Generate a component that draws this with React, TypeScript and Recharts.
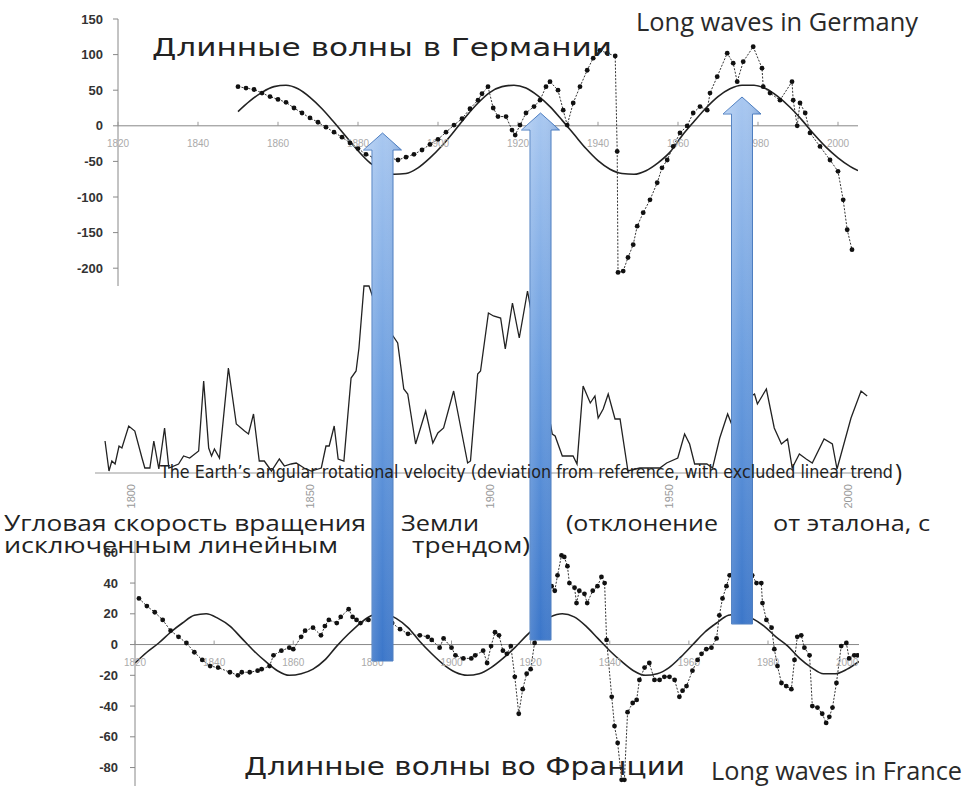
import { LineChart, Line, XAxis, YAxis, ReferenceLine, ReferenceDot } from 'recharts';

// Germany: index values (dotted series) and fitted long wave
const GER_YEARS = [
  1850, 1852, 1854, 1856, 1858, 1860, 1862, 1864, 1866, 1868, 1870, 1872, 1874, 1876, 1878, 1880, 1882, 1884, 1886, 1888,
  1890, 1892, 1894, 1896, 1898, 1900, 1902, 1904, 1906, 1908, 1910, 1911, 1912.5, 1913.8, 1915, 1917, 1918.5, 1919.3, 1920.5, 1922,
  1924, 1925.5, 1927, 1928, 1930, 1931.3, 1932.3, 1933.8, 1935.5, 1937.3, 1938.8, 1940.5, 1942.3, 1944.3, 1944.8, 1945, 1946.3, 1947.5, 1948.8, 1949.8,
  1951.3, 1953, 1954.8, 1956, 1957.3, 1958.8, 1960.5, 1962.3, 1963.8, 1965.5, 1967.3, 1968, 1969.8, 1972.3, 1973.8, 1974.8, 1976.3, 1978.8, 1981, 1981.3,
  1983, 1985.5, 1988.5, 1988.8, 1989.8, 1990.5, 1991.8, 1993, 1995.5, 1998, 2000, 2001.3, 2002.3, 2003.5,
];
const GER_VALUES = [
  55, 53, 51, 46, 41, 37, 33, 25, 18, 11, 5, -2, -9, -16, -24, -32, -40, -45, -46, -45,
  -48, -44, -40, -34, -26, -19, -9, 1, 10, 24, 36, 45, 55, 25, 13, 13, -6, -13, 1, 18,
  27, 36, 55, 62, 50, 22, 1, 32, 55, 78, 95, 106, 102, 98, -36, -206, -204, -185, -167, -141,
  -122, -104, -80, -59, -48, -29, -10, 0, 18, 27, 22, 46, 69, 102, 88, 62, 90, 111, 81, 55,
  46, 36, 62, 36, 0, 32, 18, -10, -29, -48, -64, -104, -146, -174,
];
const GER_WAVE_YEARS = [
  1850, 1853, 1856, 1859, 1862, 1865, 1868, 1871, 1874, 1877, 1880, 1883, 1886, 1889, 1892, 1895, 1898, 1901, 1904, 1907,
  1910, 1913, 1916, 1919, 1922, 1925, 1928, 1931, 1934, 1937, 1940, 1943, 1946, 1949, 1952, 1955, 1958, 1961, 1964, 1967,
  1970, 1973, 1976, 1979, 1982, 1985, 1988, 1991, 1994, 1997, 2000, 2003, 2005,
];
const GER_WAVE = [
  20, 35, 47, 55, 57, 52, 40, 24, 5, -15, -35, -52, -63, -68, -67, -59, -45, -28, -8, 13,
  32, 47, 55, 57, 53, 42, 27, 8, -12, -32, -49, -61, -67, -68, -63, -52, -37, -14, 6, 25,
  41, 52, 57, 57, 52, 41, 26, 8, -12, -30, -45, -57, -63,
];
const GER_Y_TICKS = [-200, -150, -100, -50, 0, 50, 100, 150];
const GER_X_LABELS = [1820, 1840, 1860, 1880, 1900, 1920, 1940, 1960, 1980, 2000];

// Earth's angular rotational velocity (deviation, detrended)
const EARTH_YEARS = [
  1792.8, 1793.9, 1794.7, 1795.6, 1796.7, 1797.5, 1799.4, 1801.1, 1803.1, 1803.9, 1805.3, 1806.4, 1807.8, 1809.4, 1810.6, 1813.3, 1814.7, 1816.4, 1818.9, 1820.3,
  1821.7, 1822.5, 1823.3, 1824.7, 1827.2, 1829.4, 1831.7, 1832.8, 1834.2, 1835.8, 1837.2, 1839.2, 1841.4, 1842.8, 1844.7, 1846.1, 1848.3, 1850.3, 1853.1, 1854.4,
  1855.3, 1856.7, 1857.8, 1859.4, 1860.6, 1861.4, 1862.8, 1863.6, 1865, 1866.4, 1869, 1871, 1873.1, 1874.4, 1876.1, 1877.2, 1879.4, 1882.2, 1884.2, 1885.6,
  1887.2, 1890, 1893.9, 1894.7, 1896.7, 1897.5, 1899.7, 1901.1, 1903.1, 1904.4, 1906.4, 1908.3, 1910.6, 1911.1, 1914, 1917.5, 1918.3, 1920.3, 1923.3, 1924.4,
  1926.1, 1928.1, 1929.4, 1930.3, 1931.7, 1933.1, 1935, 1936.4, 1938.6, 1941.9, 1947.5, 1949.4, 1952.5, 1954.4, 1955.8, 1957.2, 1960.6, 1962.2, 1964.2, 1966.4,
  1967.5, 1970, 1973.9, 1974.7, 1977.2, 1979.4, 1981.4, 1983.1, 1984.4, 1986.4, 1988.3, 1990, 1993.3, 1995.6, 1996.9, 2000.8, 2003.6, 2005.3,
];
const EARTH_VALUES = [
  32, 2, 12, 9, 27, 25, 47, 42, 15, 5, 5, 32, 4, 45, 5, 9, 17, 15, 22, 92,
  25, 17, 24, 15, 105, 49, 42, 39, 59, 12, 12, 2, 14, 7, 9, 10, 5, 2, 5, 27,
  27, 47, 14, 12, 62, 95, 102, 125, 187, 187, 160, 150, 137, 130, 84, 79, 29, 62, 30, 40,
  45, 82, 10, 12, 99, 102, 160, 157, 155, 124, 170, 135, 182, 172, 110, 39, 37, 17, 17, 9,
  87, 70, 77, 55, 64, 79, 54, 54, 2, 5, 5, 10, 15, 39, 29, 9, 9, 5, 35, 59,
  49, 70, 79, 69, 84, 45, 29, 34, 5, 19, 14, 10, 34, 29, 4, 55, 82, 77,
];
const EARTH_X_LABELS = [1800, 1850, 1900, 1950, 2000];

// France: index values and fitted long wave
const FRA_YEARS = [
  1821, 1823, 1825, 1827, 1829, 1831, 1833, 1835, 1837, 1839, 1841, 1844, 1846, 1847, 1849, 1851, 1852, 1854, 1855, 1857,
  1859, 1860, 1862, 1863, 1865, 1867, 1868, 1869, 1871, 1872, 1874, 1875, 1876, 1877, 1879, 1881, 1883, 1885, 1887, 1889,
  1892, 1894, 1895, 1897, 1898, 1900, 1901, 1903, 1905, 1906, 1908, 1909, 1910, 1911, 1912, 1913, 1914, 1915, 1916, 1917,
  1918, 1919, 1920, 1921, 1923, 1925.3, 1926.1, 1926.8, 1927.8, 1928.5, 1929.3, 1929.8, 1931.1, 1931.6, 1932.3, 1933.6, 1934.3, 1935.7, 1936.9, 1937.9,
  1938.7, 1939.2, 1940.5, 1941.2, 1942, 1943, 1943.7, 1944.5, 1945.8, 1946.8, 1947.5, 1948.8, 1950, 1951.3, 1952.6, 1953.8, 1955.1, 1956.4, 1957.6, 1958.4,
  1959.4, 1960.9, 1962.2, 1963.2, 1964.4, 1965.7, 1967, 1967.7, 1968.5, 1969.5, 1970.3, 1972, 1974, 1976, 1977.1, 1978.3, 1978.6, 1979.6, 1980.9, 1981.6,
  1982.4, 1983.4, 1984.6, 1985.9, 1986.7, 1987.4, 1988.4, 1989.2, 1990.5, 1991.2, 1992.5, 1993.7, 1994.7, 1995.5, 1996.3, 1997.3, 1998.5, 1999.8, 2000.5, 2001.8,
  2002.6,
];
const FRA_VALUES = [
  30, 25, 21, 16, 9, 5, 1, -5, -10, -14, -15, -18, -20, -18, -18, -17, -16, -14, -7, -4,
  -2, -3, 5, 9, 11, 6, 12, 16, 14, 18, 23, 18, 16, 14, 16, 17, 15, 14, 10, 7,
  6, 5, 3, -2, 4, -2, -7, -9, -9, -7, -4, -12, -1, 8, 6, -4, -6, -1, -21, -45,
  -29, -19, -16, 1, 22, 38, 35, 45, 58, 57, 51, 40, 37, 27, 35, 33, 27, 35, 38, 44,
  40, 3, -34, -53, -64, -88, -88, -44, -38, -36, -23, -15, -12, -23, -23, -21, -21, -23, -34, -30,
  -27, -17, -10, -6, -3, -2, 4, 19, 30, 38, 45, 52, 55, 45, 40, 40, 27, 16, 11, -3,
  -14, -25, -27, -29, -10, 5, 6, -2, -7, -40, -41, -45, -51, -47, -41, -25, -1, 1, -9, -7,
  -7,
];
const FRA_WAVE_YEARS = [
  1820, 1823, 1826, 1829, 1832, 1835, 1838, 1841, 1844, 1847, 1850, 1853, 1856, 1859, 1862, 1865, 1868, 1871, 1874, 1877,
  1880, 1883, 1886, 1889, 1892, 1895, 1898, 1901, 1904, 1907, 1910, 1913, 1916, 1919, 1922, 1925, 1928, 1931, 1934, 1937,
  1940, 1943, 1946, 1949, 1952, 1955, 1958, 1961, 1964, 1967, 1970, 1973, 1976, 1979, 1982, 1985, 1988, 1991, 1994, 1997,
  2000, 2003,
];
const FRA_WAVE = [
  -12, -5, 1, 8, 14, 19, 20, 17, 12, 4, -4, -11, -17, -20, -19, -16, -10, -1, 7, 14,
  19, 20, 17, 11, 2, -6, -13, -18, -20, -19, -15, -9, -2, 6, 13, 18, 20, 18, 12, 4,
  -4, -11, -17, -20, -19, -15, -8, 0, 8, 14, 19, 20, 17, 12, 5, -1, -9, -15, -19, -19,
  -16, -11,
];
const FRA_Y_TICKS = [-80, -60, -40, -20, 0, 20, 40, 60];
const FRA_X_LABELS = [1820, 1840, 1860, 1880, 1900, 1920, 1940, 1960, 1980, 2000];

const toRows = (years: number[], values: number[]) => years.map((year, i) => ({ year, value: values[i] }));

const gerRows = toRows(GER_YEARS, GER_VALUES);
const gerWaveRows = toRows(GER_WAVE_YEARS, GER_WAVE);
const earthRows = toRows(EARTH_YEARS, EARTH_VALUES);
const fraRows = toRows(FRA_YEARS, FRA_VALUES);
const fraWaveRows = toRows(FRA_WAVE_YEARS, FRA_WAVE);

const AXIS_FONT = "'Liberation Sans', Arial, sans-serif";

// year label + small tick sitting on the zero line
const yearMark = (label: number, dy: number) => (p: any) => (
  <g>
    <line x1={p.cx} x2={p.cx} y1={p.cy - 4} y2={p.cy} stroke="#999" />
    <text x={p.cx} y={p.cy + dy} textAnchor="middle" fontSize={10} fill="#aaa" fontFamily={AXIS_FONT}>
      {label}
    </text>
  </g>
);

const RotatedYear = ({ x, y, payload }: any) => (
  <text
    x={x + 4}
    y={y + 9}
    transform={`rotate(-90 ${x + 4} ${y + 9})`}
    textAnchor="end"
    fontSize={11}
    fill="#999"
    fontFamily={AXIS_FONT}
  >
    {payload.value}
  </text>
);

const ARROWS = [
  { cx: 382.5, tip: 133, bottom: 661 },
  { cx: 540.5, tip: 113, bottom: 640 },
  { cx: 742, tip: 97, bottom: 624 },
];

const arrowPath = (a: { cx: number; tip: number; bottom: number }) => {
  const s = 10.5, h = 19, hh = 17;
  return `M${a.cx} ${a.tip} L${a.cx + h} ${a.tip + hh} L${a.cx + s} ${a.tip + hh} L${a.cx + s} ${a.bottom} L${a.cx - s} ${a.bottom} L${a.cx - s} ${a.tip + hh} L${a.cx - h} ${a.tip + hh} Z`;
};

const RU_FONT = "'Open Sans', 'Noto Sans', sans-serif";
const WIDE_FONT = "'DejaVu Sans', Verdana, sans-serif";

export default function App() {
  return (
    <div style={{ position: 'relative', width: 967, height: 787, background: '#fff', overflow: 'hidden' }}>
      <style>{'body{margin:0}'}</style>

      {/* Germany */}
      <div style={{ position: 'absolute', left: 0, top: 0 }}>
        <LineChart width={967} height={300} margin={{ top: 19, right: 109, bottom: 14, left: 0 }}>
          <XAxis type="number" dataKey="year" domain={[1820, 2005]} allowDataOverflow hide />
          <YAxis
            type="number"
            domain={[-225, 150]}
            allowDataOverflow
            ticks={GER_Y_TICKS}
            interval={0}
            width={118}
            axisLine={{ stroke: '#888' }}
            tickLine={{ stroke: '#888' }}
            tickSize={5}
            tickMargin={10}
            tick={{ fontSize: 13, fill: '#333', fontWeight: 700, fontFamily: AXIS_FONT }}
          />
          <ReferenceLine y={0} stroke="#888" />
          {GER_X_LABELS.map((yr) => (
            <ReferenceDot key={yr} x={yr} y={0} r={0} shape={yearMark(yr, 21)} />
          ))}
          <Line data={gerWaveRows} dataKey="value" type="monotone" stroke="#222" strokeWidth={1.6} dot={false} activeDot={false} isAnimationActive={false} />
          <Line
            data={gerRows}
            dataKey="value"
            type="linear"
            stroke="#333"
            strokeWidth={1}
            strokeDasharray="2 1.5"
            dot={{ r: 2.4, fill: '#111', stroke: 'none' }}
            activeDot={false}
            isAnimationActive={false}
          />
        </LineChart>
      </div>

      {/* Earth's rotation */}
      <div style={{ position: 'absolute', left: 0, top: 270 }}>
        <LineChart width={967} height={240} margin={{ top: 3, right: 83, bottom: 7, left: 95 }}>
          <XAxis
            type="number"
            dataKey="year"
            domain={[1790, 2010]}
            allowDataOverflow
            ticks={EARTH_X_LABELS}
            interval={0}
            height={30}
            axisLine={{ stroke: '#999' }}
            tickLine={false}
            tickSize={0}
            tick={<RotatedYear />}
          />
          <YAxis type="number" domain={[0, 200]} allowDataOverflow hide />
          <Line data={earthRows} dataKey="value" type="linear" stroke="#222" strokeWidth={1.3} dot={false} activeDot={false} isAnimationActive={false} />
        </LineChart>
      </div>

      {/* France */}
      <div style={{ position: 'absolute', left: 0, top: 530 }}>
        <LineChart width={967} height={257} margin={{ top: 10, right: 108, bottom: 1, left: 0 }}>
          <XAxis type="number" dataKey="year" domain={[1820, 2003]} allowDataOverflow hide />
          <YAxis
            type="number"
            domain={[-92, 68]}
            allowDataOverflow
            ticks={FRA_Y_TICKS}
            interval={0}
            width={135}
            axisLine={{ stroke: '#888' }}
            tickLine={{ stroke: '#888' }}
            tickSize={5}
            tickMargin={12}
            tick={{ fontSize: 13, fill: '#333', fontWeight: 700, fontFamily: AXIS_FONT }}
          />
          <ReferenceLine y={0} stroke="#888" />
          {FRA_X_LABELS.map((yr) => (
            <ReferenceDot key={yr} x={yr} y={0} r={0} shape={yearMark(yr, 21)} />
          ))}
          <Line data={fraWaveRows} dataKey="value" type="monotone" stroke="#222" strokeWidth={1.6} dot={false} activeDot={false} isAnimationActive={false} />
          <Line
            data={fraRows}
            dataKey="value"
            type="linear"
            stroke="#333"
            strokeWidth={1}
            strokeDasharray="2 1.5"
            dot={{ r: 2.4, fill: '#111', stroke: 'none' }}
            activeDot={false}
            isAnimationActive={false}
          />
        </LineChart>
      </div>

      {/* arrows and captions */}
      <svg width={967} height={787} style={{ position: 'absolute', left: 0, top: 0, pointerEvents: 'none' }}>
        <defs>
          <linearGradient id="arrowFill" x1="0" y1="0" x2="0" y2="1">
            <stop offset="0" stopColor="#a8c7f0" />
            <stop offset="0.5" stopColor="#6a9ddf" />
            <stop offset="1" stopColor="#3b76c9" />
          </linearGradient>
          <linearGradient id="arrowShade" x1="0" y1="0" x2="1" y2="0">
            <stop offset="0" stopColor="#ffffff" stopOpacity={0.25} />
            <stop offset="0.5" stopColor="#ffffff" stopOpacity={0} />
            <stop offset="1" stopColor="#1f4f99" stopOpacity={0.25} />
          </linearGradient>
        </defs>
        {ARROWS.map((a, i) => (
          <g key={i}>
            <path d={arrowPath(a)} fill="url(#arrowFill)" stroke="#4a7cc0" strokeWidth={1} />
            <path d={arrowPath(a)} fill="url(#arrowShade)" />
          </g>
        ))}

        <text x={152} y={56} fontSize={25} fontFamily={WIDE_FONT} fill="#222" textLength={460} lengthAdjust="spacingAndGlyphs">
          Длинные волны в Германии
        </text>
        <text x={636} y={31} fontSize={26} fontFamily={RU_FONT} fill="#2a2a2a" textLength={282} lengthAdjust="spacingAndGlyphs">
          Long waves in Germany
        </text>

        <text x={160} y={478} fontSize={17} fontFamily="'Liberation Sans Narrow', 'DejaVu Sans Condensed', sans-serif" fill="#222" textLength={733} lengthAdjust="spacingAndGlyphs">
          The Earth’s angular rotational velocity (deviation from reference, with excluded linear trend
        </text>
        <text x={895} y={481} fontSize={24} fontFamily={RU_FONT} fill="#222">)</text>

        <g fontSize={21} fontFamily={RU_FONT} fill="#222">
          <text x={4} y={531} textLength={362} lengthAdjust="spacingAndGlyphs">Угловая скорость вращения</text>
          <text x={401} y={531} textLength={78} lengthAdjust="spacingAndGlyphs">Земли</text>
          <text x={566} y={531} textLength={152} lengthAdjust="spacingAndGlyphs">(отклонение</text>
          <text x={773} y={531} textLength={157} lengthAdjust="spacingAndGlyphs">от  эталона, с</text>
          <text x={4} y={553} textLength={334} lengthAdjust="spacingAndGlyphs">исключенным линейным</text>
          <text x={412} y={553} textLength={118} lengthAdjust="spacingAndGlyphs">трендом)</text>
        </g>

        <text x={244} y={775} fontSize={25} fontFamily={WIDE_FONT} fill="#222" textLength={441} lengthAdjust="spacingAndGlyphs">
          Длинные волны во Франции
        </text>
        <text x={711} y={780} fontSize={25} fontFamily={RU_FONT} fill="#2a2a2a" textLength={251} lengthAdjust="spacingAndGlyphs">
          Long waves in France
        </text>
      </svg>
    </div>
  );
}
